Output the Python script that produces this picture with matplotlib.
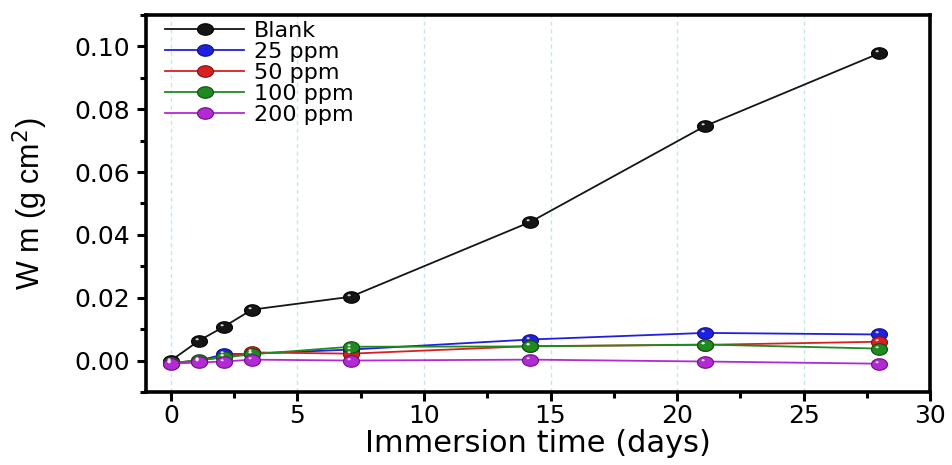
import matplotlib
matplotlib.use("Agg")
import numpy as np
import matplotlib.pyplot as plt
from matplotlib.path import Path
from matplotlib.ticker import MultipleLocator, FormatStrFormatter

plt.rcParams['font.family'] = ['DejaVu Sans']

days = [0, 1.1, 2.1, 3.2, 7.1, 14.2, 21.1, 28.0]
blank = [0.0, 0.0063, 0.0108, 0.0162, 0.0203, 0.0441, 0.0746, 0.0978]
ppm25 = [-0.0008, 0.0, 0.0020, 0.0022, 0.0035, 0.0067, 0.0088, 0.0083]
ppm50 = [-0.0008, 0.0, 0.0012, 0.0026, 0.0022, 0.0046, 0.0050, 0.0060]
ppm100 = [-0.0008, 0.0001, 0.0010, 0.0020, 0.0044, 0.0045, 0.0051, 0.0038]
ppm200 = [-0.0010, -0.0006, -0.0003, 0.0003, 0.0000, 0.0003, -0.0003, -0.0010]

labels = ['Blank', '25 ppm', '50 ppm', '100 ppm', '200 ppm']
colors = ['#151515', '#1f1fe0', '#d82020', '#1f8a1f', '#b22ad4']
edges = ['#000000', '#101080', '#801010', '#0f4f0f', '#6a1080']
series = [blank, ppm25, ppm50, ppm100, ppm200]

# slightly flattened ball marker plus a small glossy highlight
t = np.linspace(0, 2 * np.pi, 60)
ball = Path(np.column_stack([np.cos(t), 0.72 * np.sin(t)]), closed=True)
hx, hy, hr = -0.30, 0.28, 0.20
shine = Path(np.column_stack([hx + hr * np.cos(t), hy + 0.65 * hr * np.sin(t)]),
             closed=True)
shine_extent = np.max(np.abs(shine.vertices))
ms = 11.5

fig = plt.figure(figsize=(9.52, 4.65), dpi=100)
ax = fig.add_axes([0.153, 0.157, 0.824, 0.811])

for x in [0, 5, 10, 15, 20, 25]:
    ax.axvline(x, color='#c6e6ee', lw=1.0, ls=(0, (3, 2.5)), zorder=0)

for vals, lab, c, ec in zip(series, labels, colors, edges):
    ax.plot(days, vals, '-', marker=ball, color=c, lw=1.3, ms=ms, mfc=c,
            mec=ec, mew=0.8, label=lab, zorder=3)
    ax.plot(days, vals, ls='none', marker=shine, ms=ms * shine_extent,
            mfc='#f4f4f4', mec='none', alpha=0.85, zorder=4)

ax.set_xlim(-1, 30)
ax.set_ylim(-0.01, 0.11)
ax.xaxis.set_major_locator(MultipleLocator(5))
ax.xaxis.set_minor_locator(MultipleLocator(2.5))
ax.yaxis.set_major_locator(MultipleLocator(0.02))
ax.yaxis.set_minor_locator(MultipleLocator(0.01))
ax.yaxis.set_major_formatter(FormatStrFormatter('%.2f'))

for s in ax.spines.values():
    s.set_linewidth(2.6)
ax.tick_params(which='major', direction='out', length=6.5, width=2.2, labelsize=18)
ax.tick_params(axis='y', which='major', pad=5)
ax.tick_params(axis='x', which='major', pad=2)
ax.tick_params(which='minor', direction='out', length=4.5, width=2.2)

ax.set_xlabel('Immersion time (days)', fontsize=22)
ax.xaxis.set_label_coords(0.5, -0.097)
ax.set_ylabel('W m (g cm$^{2}$)', fontsize=22, labelpad=17,
              family=['Liberation Sans', 'DejaVu Sans'])

ax.legend(loc='upper left', frameon=False, fontsize=16, handlelength=3.55,
          handletextpad=0.45, labelspacing=0.05, borderaxespad=0.0,
          borderpad=0.0, bbox_to_anchor=(0.025, 0.985))

fig.savefig('out.png', dpi=100)
